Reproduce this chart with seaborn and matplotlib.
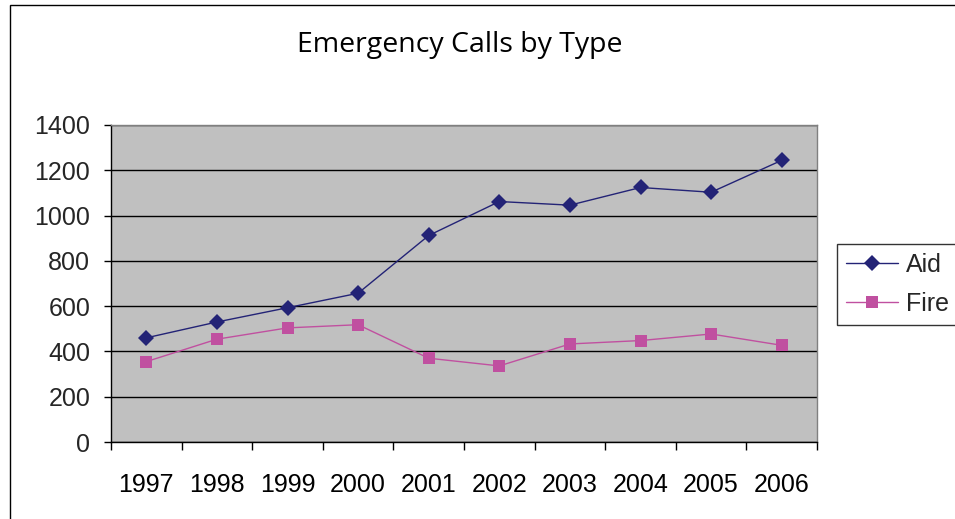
import matplotlib
matplotlib.use("Agg")
import matplotlib.pyplot as plt
import matplotlib.patches as mpatches
from matplotlib.ticker import FixedLocator
from matplotlib.lines import Line2D
import seaborn as sns
import pandas as pd

years = ["1997", "1998", "1999", "2000", "2001", "2002", "2003", "2004", "2005", "2006"]
aid = [460, 530, 593, 657, 912, 1062, 1046, 1124, 1103, 1244]
fire = [355, 454, 504, 518, 370, 336, 433, 448, 477, 427]
series_names = ["Aid", "Fire"]
y_ticks = [0, 200, 400, 600, 800, 1000, 1200, 1400]

sns.set_style("white")
plt.rcParams["font.family"] = ["Liberation Sans", "DejaVu Sans"]

df = pd.DataFrame({
    "pos": list(range(len(years))) * 2,
    "value": aid + fire,
    "series": [series_names[0]] * len(years) + [series_names[1]] * len(years),
})

fig = plt.figure(figsize=(9.55, 5.19), dpi=100)
ax = fig.add_axes([111 / 955, 1 - 442 / 519, (817 - 111) / 955, (442 - 125) / 519])
ax.set_facecolor("#C0C0C0")

palette = {"Aid": "#232376", "Fire": "#C050A0"}
markers = {"Aid": "D", "Fire": "s"}
sns.lineplot(data=df, x="pos", y="value", hue="series", style="series",
             palette=palette, markers=markers, dashes=False, linewidth=1,
             markersize=8.5, markeredgewidth=0, ax=ax, legend=False)

ax.set_xlim(-0.5, len(years) - 0.5)
ax.set_ylim(0, 1400)
ax.set_yticks(y_ticks)
ax.set_yticklabels([str(v) for v in y_ticks])
ax.set_xticks(range(len(years)))
ax.set_xticklabels(years)
ax.xaxis.set_minor_locator(FixedLocator([i - 0.5 for i in range(len(years) + 1)]))
ax.tick_params(axis="x", which="major", length=0, pad=22, labelsize=18, colors="black")
ax.tick_params(axis="x", which="minor", length=6, width=1, color="black", direction="out", bottom=True)
ax.tick_params(axis="y", which="major", length=5, width=1, color="black", direction="out", pad=10, labelsize=18, left=True)
ax.set_xlabel("")
ax.set_ylabel("")
ax.yaxis.grid(True, color="black", linewidth=1)
ax.xaxis.grid(False)
ax.set_axisbelow(True)

for s in ["left", "bottom"]:
    ax.spines[s].set_color("black")
    ax.spines[s].set_linewidth(1)
for s in ["top", "right"]:
    ax.spines[s].set_color("#808080")
    ax.spines[s].set_linewidth(1)

fig.text(460 / 955, 1 - 45 / 519, "Emergency Calls by Type", ha="center", va="center",
         fontsize=20.5, family=["Open Sans", "DejaVu Sans"], color="black")

handles = [Line2D([0], [0], color=palette[n], marker=markers[n], markersize=8.5,
                  markeredgewidth=0, linewidth=1) for n in series_names]
leg = fig.legend(handles, series_names, loc="upper left",
                 bbox_to_anchor=(837 / 955, 1 - 244 / 519), bbox_transform=fig.transFigure,
                 frameon=True, fancybox=False, fontsize=18, handlelength=2.1,
                 handletextpad=0.3, borderpad=0.35, labelspacing=0.6, borderaxespad=0)
leg.get_frame().set_edgecolor("black")
leg.get_frame().set_linewidth(1)

fig.patches.append(mpatches.Rectangle((10 / 955, -0.05), 1.1, (1 - 5 / 519) + 0.05,
                                      transform=fig.transFigure, fill=False,
                                      edgecolor="black", linewidth=1))

fig.savefig("out.png", dpi=100)
